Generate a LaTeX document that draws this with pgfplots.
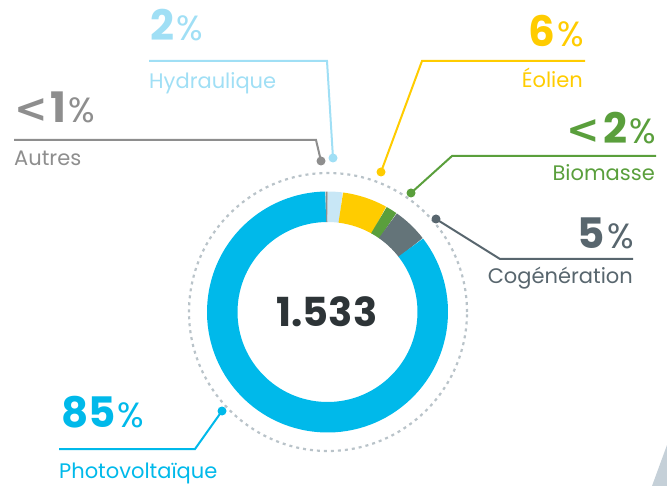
\documentclass[border=0pt]{standalone}
\usepackage{pgfplots}
\usepackage{pgfplotstable}
\pgfplotsset{compat=1.18}
\usepackage{fontspec}
\setmainfont{Poppins}
\newfontfamily\dv{DejaVu Sans}

\definecolor{pv}{HTML}{00B9EA}
\definecolor{hydroseg}{HTML}{C8E7F6}
\definecolor{hydro}{HTML}{A0DFF5}
\definecolor{eol}{HTML}{FFCC00}
\definecolor{bio}{HTML}{5A9F3C}
\definecolor{cogseg}{HTML}{647479}
\definecolor{cog}{HTML}{58666E}
\definecolor{autres}{HTML}{8E8E8E}
\definecolor{center}{HTML}{2D3437}
\definecolor{dotgray}{HTML}{B9C3C9}
\definecolor{corner}{HTML}{C5D0D8}

% share of each source, in percent, clockwise from the top
\pgfplotstableread{
label value color
Autres 0.3 autres
Hydraulique 2.0 hydroseg
Eolien 6.1 eol
Biomasse 1.6 bio
Cogeneration 4.8 cogseg
Photovoltaique 85.2 pv
}\donut

\newcommand{\pct}[1]{{\fontsize{42}{42}\selectfont\bfseries #1}\kern2pt{\fontsize{35}{35}\selectfont\%}}
\newcommand{\lt}{{\dv\bfseries\fontsize{40}{40}\selectfont <}\kern3pt}
\newcommand{\lab}{\fontsize{21}{21}\selectfont}

\begin{document}
\begin{tikzpicture}
\begin{axis}[
  hide axis, scale only axis, width=667pt, height=486pt,
  xmin=0, xmax=667, ymin=0, ymax=486, y dir=reverse,
  clip=false,
]
\path (axis cs:0,0) rectangle (axis cs:667,486);

% donut
\pgfplotstablegetrowsof{\donut}
\pgfmathtruncatemacro\nrows{\pgfplotsretval-1}
\def\cum{-0.28}
\pgfplotsforeachungrouped \i in {0,...,\nrows}{%
  \pgfplotstablegetelem{\i}{value}\of\donut \let\v\pgfplotsretval
  \pgfplotstablegetelem{\i}{color}\of\donut \let\col\pgfplotsretval
  \pgfmathsetmacro\a{90-3.6*\cum}%
  \pgfmathsetmacro\b{90-3.6*(\cum+\v)}%
  \edef\tmp{\noexpand\draw[line width=30.5pt, color=\col] (axis cs:327.5,312) ++(\a:105.25pt) arc[start angle=\a, end angle=\b, radius=105.25pt];}%
  \tmp
  \pgfmathsetmacro\cum{\cum+\v}%
}

% dotted circle
\draw[dotgray, line width=2.2pt, dash pattern=on 3pt off 4pt] (axis cs:328,312) circle[radius=139pt];

% centre total
\node[anchor=base, text=center, font=\fontsize{40}{40}\selectfont\bfseries] at (axis cs:327,327) {1.533};

% leaders
\draw[hydro, line width=2pt] (axis cs:149,61) -- (axis cs:327,61) -- (axis cs:333,158);
\fill[hydro] (axis cs:333,158) circle[radius=4.5pt];
\draw[autres, line width=2pt] (axis cs:14,140) -- (axis cs:316,140) -- (axis cs:321,161);
\fill[autres] (axis cs:321,161) circle[radius=4.5pt];
\draw[eol, line width=2pt] (axis cs:585,61) -- (axis cs:422,61) -- (axis cs:381,172);
\fill[eol] (axis cs:381,172) circle[radius=4.5pt];
\draw[bio, line width=2pt] (axis cs:656,156) -- (axis cs:452,156) -- (axis cs:411,193);
\fill[bio] (axis cs:411,193) circle[radius=4.5pt];
\draw[cog, line width=2pt] (axis cs:633,259) -- (axis cs:500,259) -- (axis cs:436,219);
\fill[cog] (axis cs:436,219) circle[radius=4.5pt];
\draw[pv, line width=2pt] (axis cs:59,449) -- (axis cs:195,449) -- (axis cs:222,411);
\fill[pv] (axis cs:222,411) circle[radius=4.5pt];

% labels
\node[anchor=base west, inner sep=0pt, text=hydro] at (axis cs:150,41) {\pct{2}};
\node[anchor=base west, inner sep=0pt, text=hydro] at (axis cs:149,89) {\lab Hydraulique};
\node[anchor=base west, inner sep=0pt, text=autres] at (axis cs:14,123) {\lt\pct{1}};
\node[anchor=base west, inner sep=0pt, text=autres] at (axis cs:14,166) {\lab Autres};
\node[anchor=base east, inner sep=0pt, text=eol] at (axis cs:584,47) {\pct{6}};
\node[anchor=base east, inner sep=0pt, text=eol] at (axis cs:583,88) {\lab Éolien};
\node[anchor=base east, inner sep=0pt, text=bio] at (axis cs:656,144) {\lt\pct{2}};
\node[anchor=base east, inner sep=0pt, text=bio] at (axis cs:655,181) {\lab Biomasse};
\node[anchor=base east, inner sep=0pt, text=cog] at (axis cs:634,249) {\pct{5}};
\node[anchor=base east, inner sep=0pt, text=cog] at (axis cs:633,284) {\lab Cogénération};
\node[anchor=base west, inner sep=0pt, text=pv] at (axis cs:61,428) {\pct{85}};
\node[anchor=base west, inner sep=0pt, text=pv] at (axis cs:59,478) {\lab Photovoltaïque};

% corner decoration
\fill[corner] (axis cs:652,486) -- (axis cs:667,445) -- (axis cs:667,486) -- cycle;
\end{axis}
\end{tikzpicture}
\end{document}
